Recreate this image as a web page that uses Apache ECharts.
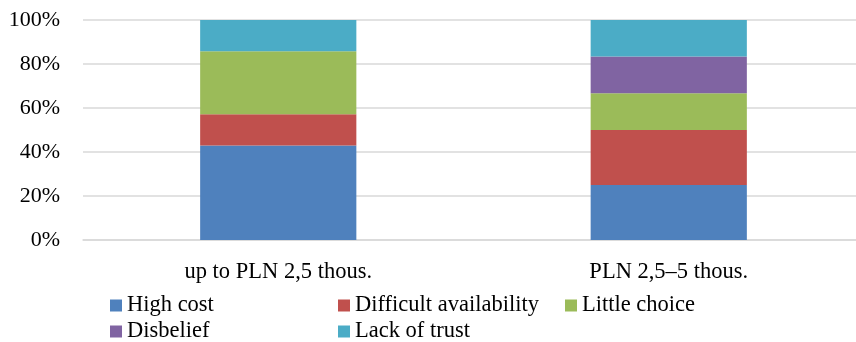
<!DOCTYPE html>
<html>
<head>
<meta charset="utf-8">
<script src="https://cdn.jsdelivr.net/npm/echarts@6/dist/echarts.min.js"></script>
<style>html,body{margin:0;padding:0;background:#fff}#c{width:856px;height:342px}</style>
</head>
<body>
<div id="c"></div>
<script>
var categories = ['up to PLN 2,5 thous.', 'PLN 2,5\u20135 thous.'];
var seriesNames = ['High cost', 'Difficult availability', 'Little choice', 'Disbelief', 'Lack of trust'];
var highCost = [42.9, 25.0];
var difficultAvailability = [14.3, 25.0];
var littleChoice = [28.6, 16.7];
var disbelief = [0, 16.7];
var lackOfTrust = [14.2, 16.6];
var yTicks = [0, 20, 40, 60, 80, 100];
var colors = ['#4F81BD', '#C0504D', '#9BBB59', '#8064A2', '#4BACC6'];

var values = [highCost, difficultAvailability, littleChoice, disbelief, lackOfTrust];
var font = 'Liberation Serif';
var legendPos = [[110, 294], [338, 294], [565, 294], [110, 320], [338, 320]];

var chart = echarts.init(document.getElementById('c'), null, {renderer: 'canvas'});
chart.setOption({
  animation: false,
  color: colors,
  textStyle: {fontFamily: font},
  grid: {left: 83, top: 20, width: 781, height: 220, containLabel: false, outerBoundsMode: 'none'},
  legend: seriesNames.map(function (n, i) {
    return {
      data: [n],
      left: legendPos[i][0],
      top: legendPos[i][1],
      padding: 0,
      itemWidth: 12,
      itemHeight: 12,
      icon: 'rect',
      textStyle: {fontFamily: font, fontSize: 22.5, color: '#000'}
    };
  }),
  xAxis: {
    type: 'category',
    data: categories,
    axisLine: {show: true, lineStyle: {color: '#d9d9d9', width: 1.5}},
    axisTick: {show: false},
    axisLabel: {fontFamily: font, fontSize: 22.5, color: '#000', margin: 21}
  },
  yAxis: {
    type: 'value',
    min: yTicks[0],
    max: yTicks[yTicks.length - 1],
    interval: 20,
    axisLine: {show: false},
    axisTick: {show: false},
    splitLine: {lineStyle: {color: '#d9d9d9', width: 1.5}},
    axisLabel: {fontFamily: font, fontSize: 22, color: '#000', margin: 23, formatter: '{value}%'}
  },
  series: seriesNames.map(function (n, i) {
    return {
      name: n,
      type: 'bar',
      stack: 'total',
      barWidth: '40%',
      data: values[i],
      itemStyle: {color: colors[i]}
    };
  })
});
</script>
</body>
</html>
